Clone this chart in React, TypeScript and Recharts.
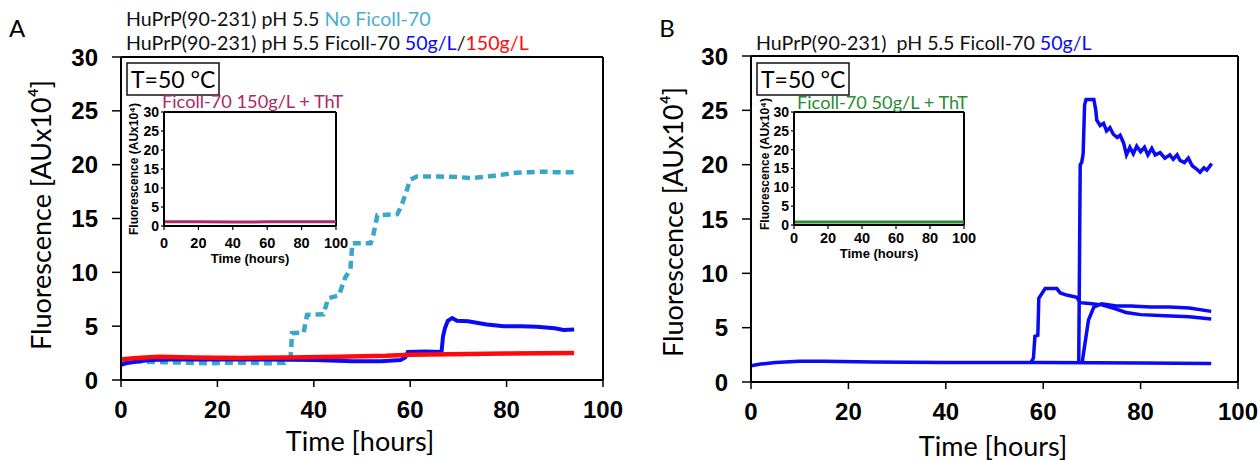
import React from 'react';
import { LineChart, Line, XAxis, YAxis, ReferenceLine } from 'recharts';

// ---------- Panel A data: [time (hours), fluorescence (AUx10^4)] ----------
const seriesA_noFicoll: [number, number][] = [
  [0, 1.85], [2, 1.75], [5, 1.7], [9, 1.65], [14, 1.6], [18, 1.55], [22, 1.6], [27, 1.6],
  [31, 1.55], [34, 1.6], [35.2, 2.2], [35.5, 4.35], [37.9, 4.4], [38.6, 6.05], [42, 6.1],
  [43, 7.6], [45.2, 7.85], [46.5, 9.5], [47.6, 10.3], [48, 12.7], [51.8, 12.7], [52.4, 13.6],
  [53.2, 15.3], [57.3, 15.4], [58.2, 16.2], [58.9, 17.1], [60, 18.6], [61.4, 18.9], [66, 18.9],
  [70, 18.85], [72.5, 18.75], [75, 18.85], [78, 19.0], [82, 19.25], [85, 19.3], [87.7, 19.35],
  [90, 19.3], [94, 19.3],
];
const seriesA_50: [number, number][] = [
  [0, 1.4], [1, 1.55], [3, 1.7], [6, 1.85], [10, 1.9], [20, 1.9], [30, 1.9], [40, 1.85],
  [48, 1.75], [54, 1.75], [58, 1.85], [59, 2.1], [59.5, 2.6], [63, 2.65], [66.5, 2.6],
  [66.8, 4.0], [67.2, 4.8], [67.8, 5.5], [68.7, 5.75], [69.7, 5.5], [72, 5.45], [75.9, 5.15],
  [79.4, 5.0], [83, 5.0], [86.3, 4.95], [90, 4.8], [91.8, 4.65], [94, 4.7],
];
const seriesA_150: [number, number][] = [
  [0, 1.9], [2, 2.0], [5, 2.1], [8, 2.15], [15, 2.1], [25, 2.05], [35, 2.1], [45, 2.15],
  [55, 2.25], [60, 2.35], [68, 2.4], [80, 2.45], [94, 2.5],
];
const insetA_150ThT: [number, number][] = [
  [0, 1.1], [20, 1.1], [40, 1.05], [60, 1.1], [80, 1.1], [100, 1.1],
];

// ---------- Panel B data ----------
const seriesB_flat: [number, number][] = [
  [0, 1.5], [2, 1.65], [5, 1.8], [10, 1.9], [15, 1.9], [25, 1.85], [40, 1.8], [60, 1.8],
  [80, 1.75], [94.5, 1.7],
];
const seriesB_early: [number, number][] = [
  [57.5, 1.8], [58, 2.2], [58.3, 4.2], [58.9, 4.3], [59.1, 7.7], [60.4, 8.6], [62.8, 8.6],
  [63.5, 8.2], [64.8, 8.0], [66.9, 7.8], [67.6, 7.3], [70, 7.2], [72, 7.1], [75, 6.7],
  [77, 6.4], [80, 6.2], [85, 6.1], [90, 6.0], [94.5, 5.8],
];
const seriesB_high: [number, number][] = [
  [67.3, 1.8], [67.6, 20], [67.9, 20.2], [68.2, 21], [68.5, 25.5], [68.8, 26], [70.4, 26],
  [70.8, 25], [71, 24.1], [71.7, 23.6], [72.4, 23.8], [73, 23.1], [73.7, 23.4], [74.4, 22.8],
  [75.2, 22.5], [75.8, 22.7], [76.5, 22.0], [77.1, 20.9], [77.8, 21.6], [78.5, 21.0],
  [79.2, 21.7], [80, 21.2], [80.8, 21.6], [81.5, 20.9], [82.3, 21.5], [83, 20.9], [84, 21.1],
  [85, 20.6], [86, 20.9], [86.7, 20.5], [87.5, 20.9], [88.1, 20.4], [89, 20.2], [89.8, 20.6],
  [90.6, 19.9], [91.5, 19.6], [92.2, 19.3], [93, 19.7], [93.6, 19.5], [94.6, 20.1],
];
const seriesB_late: [number, number][] = [
  [68, 1.8], [68.6, 3.6], [69.3, 5.7], [70.4, 6.9], [72, 7.2], [75, 7.0], [78, 7.0],
  [82, 6.9], [86, 6.9], [90, 6.8], [94.5, 6.5],
];
const insetB_50ThT: [number, number][] = [
  [0, 0.8], [20, 0.8], [40, 0.8], [60, 0.8], [80, 0.8], [100, 0.8],
];

// ---------- ticks ----------
const xTicks = [0, 20, 40, 60, 80, 100];
const yTicks = [0, 5, 10, 15, 20, 25, 30];

const toRows = (pts: [number, number][]) => pts.map(([t, v]) => ({ t, v }));

const C_CYAN = '#3ba6c8';
const C_BLUE = '#0a0af5';
const C_RED = '#ff0a0a';
const C_CRIMSON = '#ad2866';
const C_GREEN = '#2a8a36';

const MYRIAD = 'Lato, "Open Sans", sans-serif';
const ARIAL = '"Liberation Sans", Arial, sans-serif';

function MainChart(props: {
  left: number;
  margin: { top: number; right: number; bottom: number; left: number };
  children: React.ReactNode;
}) {
  return (
    <div style={{ position: 'absolute', left: props.left, top: 0 }}>
      <LineChart width={630} height={460} margin={props.margin}>
        <XAxis
          dataKey="t"
          type="number"
          domain={[0, 100]}
          ticks={xTicks}
          interval={0}
          allowDataOverflow
          height={40}
          tickSize={7}
          tickMargin={14}
          axisLine={{ stroke: '#000', strokeWidth: 2 }}
          tickLine={{ stroke: '#000', strokeWidth: 1.5 }}
          tick={{ fontSize: 24, fontWeight: 700, fill: '#000', fontFamily: ARIAL }}
        />
        <YAxis
          type="number"
          domain={[0, 30]}
          ticks={yTicks}
          interval={0}
          allowDataOverflow
          width={60}
          tickSize={9}
          tickMargin={14}
          axisLine={{ stroke: '#000', strokeWidth: 2 }}
          tickLine={{ stroke: '#000', strokeWidth: 1.5 }}
          tick={{ fontSize: 24, fontWeight: 700, fill: '#000', fontFamily: ARIAL }}
        />
        <ReferenceLine y={30} stroke="#000" strokeWidth={2} />
        <ReferenceLine x={100} stroke="#000" strokeWidth={2} />
        {props.children}
      </LineChart>
    </div>
  );
}

function InsetChart(props: {
  left: number;
  top: number;
  margin: { top: number; right: number; bottom: number; left: number };
  xTickMargin: number;
  data: [number, number][];
  color: string;
}) {
  return (
    <div style={{ position: 'absolute', left: props.left, top: props.top, background: 'transparent' }}>
      <LineChart width={240} height={170} margin={props.margin}>
        <XAxis
          dataKey="t"
          type="number"
          domain={[0, 100]}
          ticks={xTicks}
          interval={0}
          height={30}
          tickSize={4}
          tickMargin={props.xTickMargin}
          axisLine={{ stroke: '#000', strokeWidth: 2 }}
          tickLine={{ stroke: '#000', strokeWidth: 1.2 }}
          tick={{ fontSize: 14.5, fontWeight: 700, fill: '#000', fontFamily: ARIAL }}
        />
        <YAxis
          type="number"
          domain={[0, 30]}
          ticks={yTicks}
          interval={0}
          width={30}
          tickSize={3}
          tickMargin={2}
          axisLine={{ stroke: '#000', strokeWidth: 2 }}
          tickLine={{ stroke: '#000', strokeWidth: 1.2 }}
          tick={{ fontSize: 14, fontWeight: 700, fill: '#000', fontFamily: ARIAL }}
        />
        <ReferenceLine y={30} stroke="#000" strokeWidth={2} />
        <ReferenceLine x={100} stroke="#000" strokeWidth={2} />
        <Line
          data={toRows(props.data)}
          dataKey="v"
          type="linear"
          stroke={props.color}
          strokeWidth={3}
          dot={false}
          isAnimationActive={false}
        />
      </LineChart>
    </div>
  );
}

export default function App() {
  return (
    <div
      style={{
        position: 'absolute',
        left: 0,
        top: 0,
        width: 1260,
        height: 460,
        background: '#fff',
        overflow: 'hidden',
      }}
    >
      {/* Panel A main */}
      <MainChart left={0} margin={{ top: 57, right: 27, bottom: 40, left: 61 }}>
        <Line data={toRows(seriesA_noFicoll)} dataKey="v" type="linear" stroke={C_CYAN}
          strokeWidth={4.5} strokeDasharray="8 5" dot={false} isAnimationActive={false} />
        <Line data={toRows(seriesA_50)} dataKey="v" type="linear" stroke={C_BLUE}
          strokeWidth={4} dot={false} isAnimationActive={false} />
        <Line data={toRows(seriesA_150)} dataKey="v" type="linear" stroke={C_RED}
          strokeWidth={4.5} dot={false} isAnimationActive={false} />
      </MainChart>

      {/* Panel B main */}
      <MainChart left={630} margin={{ top: 56, right: 22, bottom: 38, left: 61 }}>
        <Line data={toRows(seriesB_flat)} dataKey="v" type="linear" stroke={C_BLUE}
          strokeWidth={3.5} dot={false} isAnimationActive={false} />
        <Line data={toRows(seriesB_early)} dataKey="v" type="linear" stroke={C_BLUE}
          strokeWidth={3.5} dot={false} isAnimationActive={false} />
        <Line data={toRows(seriesB_high)} dataKey="v" type="linear" stroke={C_BLUE}
          strokeWidth={3.5} dot={false} isAnimationActive={false} />
        <Line data={toRows(seriesB_late)} dataKey="v" type="linear" stroke={C_BLUE}
          strokeWidth={3.5} dot={false} isAnimationActive={false} />
      </MainChart>

      {/* Insets */}
      <InsetChart left={110} top={100} margin={{ top: 12, right: 14, bottom: 14, left: 24 }}
        xTickMargin={8} data={insetA_150ThT} color={C_CRIMSON} />
      <InsetChart left={740} top={100} margin={{ top: 12, right: 16, bottom: 15, left: 24 }}
        xTickMargin={4} data={insetB_50ThT} color={C_GREEN} />

      {/* Text overlay */}
      <svg width={1260} height={460} style={{ position: 'absolute', left: 0, top: 0, pointerEvents: 'none' }}>
        {/* panel letters */}
        <text x={17} y={27} fontFamily={MYRIAD} fontSize={24} textAnchor="middle" dominantBaseline="central">A</text>
        <text x={667} y={27} fontFamily={MYRIAD} fontSize={24} textAnchor="middle" dominantBaseline="central">B</text>

        {/* panel A titles */}
        <text x={126} y={18} fontFamily={MYRIAD} fontSize={19.6} dominantBaseline="central" fill="#111">
          HuPrP(90-231) pH 5.5 <tspan fill="#4aaed0">No Ficoll-70</tspan>
        </text>
        <text x={126} y={42} fontFamily={MYRIAD} fontSize={19.6} dominantBaseline="central" fill="#111">
          HuPrP(90-231) pH 5.5 Ficoll-70 <tspan fill={C_BLUE}>50g/L</tspan>/<tspan fill={C_RED}>150g/L</tspan>
        </text>

        {/* panel B title */}
        <text x={756} y={42} fontFamily={MYRIAD} fontSize={19.6} dominantBaseline="central" fill="#111" xmlSpace="preserve">
          HuPrP(90-231)  pH 5.5 Ficoll-70 <tspan fill={C_BLUE}>50g/L</tspan>
        </text>

        {/* axis titles A */}
        <text x={360} y={440} fontFamily={MYRIAD} fontSize={27} textAnchor="middle" dominantBaseline="central">Time [hours]</text>
        <text transform="translate(40,215) rotate(-90)" fontFamily={MYRIAD} fontSize={27} textAnchor="middle" dominantBaseline="central">
          Fluorescence [AUx10⁴]
        </text>
        {/* axis titles B */}
        <text x={993} y={445} fontFamily={MYRIAD} fontSize={27} textAnchor="middle" dominantBaseline="central">Time [hours]</text>
        <text transform="translate(672,222) rotate(-90)" fontFamily={MYRIAD} fontSize={27} textAnchor="middle" dominantBaseline="central">
          Fluorescence [AUx10⁴]
        </text>

        {/* T boxes */}
        <rect x={127} y={63} width={92} height={32} fill="#fff" stroke="#111" strokeWidth={1.5} />
        <text x={131} y={79} fontFamily={MYRIAD} fontSize={23} dominantBaseline="central">T=50 °C</text>
        <rect x={757} y={63} width={92} height={32} fill="#fff" stroke="#111" strokeWidth={1.5} />
        <text x={761} y={79} fontFamily={MYRIAD} fontSize={23} dominantBaseline="central">T=50 °C</text>

        {/* inset titles */}
        <text x={162} y={101} fontFamily={MYRIAD} fontSize={18.2} dominantBaseline="central" fill={C_CRIMSON}>
          Ficoll-70 150g/L + ThT
        </text>
        <text x={797} y={102} fontFamily={MYRIAD} fontSize={18.2} dominantBaseline="central" fill={C_GREEN}>
          Ficoll-70 50g/L + ThT
        </text>

        {/* inset axis titles */}
        <text x={250} y={258} fontFamily={ARIAL} fontWeight={700} fontSize={13} textAnchor="middle" dominantBaseline="central">Time (hours)</text>
        <text transform="translate(134,169) rotate(-90)" fontFamily={ARIAL} fontWeight={700} fontSize={12} textAnchor="middle" dominantBaseline="central">
          Fluorescence (AUx10⁴)
        </text>
        <text x={879} y={253} fontFamily={ARIAL} fontWeight={700} fontSize={13} textAnchor="middle" dominantBaseline="central">Time (hours)</text>
        <text transform="translate(765,164) rotate(-90)" fontFamily={ARIAL} fontWeight={700} fontSize={12} textAnchor="middle" dominantBaseline="central">
          Fluorescence (AUx10⁴)
        </text>
      </svg>
    </div>
  );
}
